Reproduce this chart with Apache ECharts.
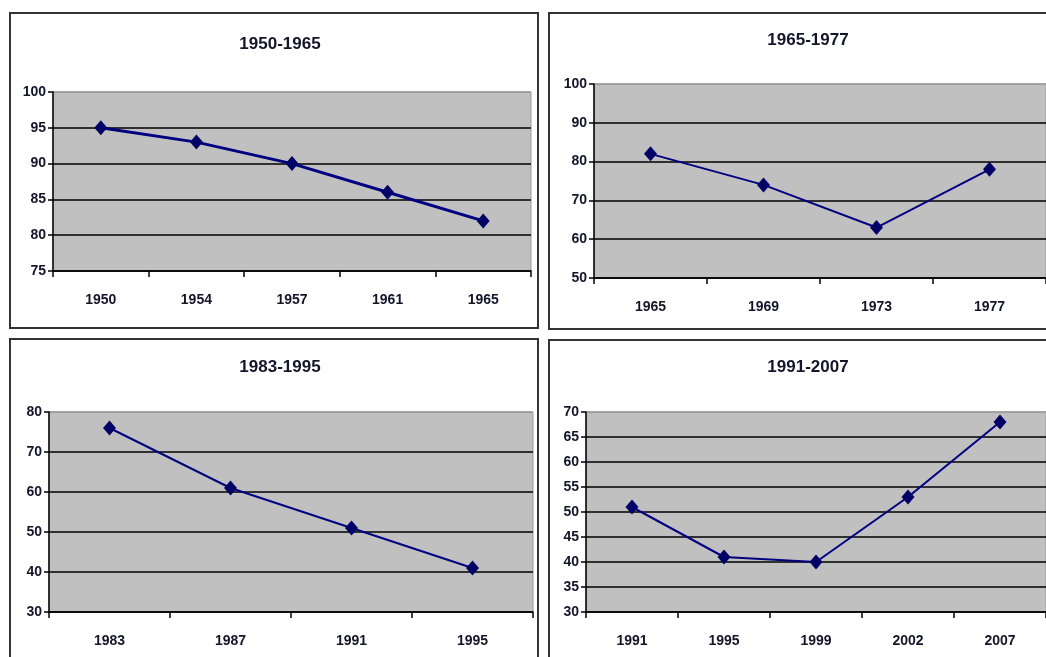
<!DOCTYPE html>
<html>
<head>
<meta charset="utf-8">
<script src="https://cdn.jsdelivr.net/npm/echarts@6/dist/echarts.min.js"></script>
<style>
html,body{margin:0;padding:0;background:#fff;}
#c{width:1046px;height:657px;}
</style>
</head>
<body>
<div id="c"></div>
<script>
// ---- data ----
const titles = ['1950-1965', '1965-1977', '1983-1995', '1991-2007'];
const cats1 = ['1950', '1954', '1957', '1961', '1965'];
const vals1 = [95, 93, 90, 86, 82];
const cats2 = ['1965', '1969', '1973', '1977'];
const vals2 = [82, 74, 63, 78];
const cats3 = ['1983', '1987', '1991', '1995'];
const vals3 = [76, 61, 51, 41];
const cats4 = ['1991', '1995', '1999', '2002', '2007'];
const vals4 = [51, 41, 40, 53, 68];
const yMins = [75, 50, 30, 30];
const yMaxs = [100, 100, 80, 70];
const yIntervals = [5, 10, 10, 5];

// ---- layout / style ----
const FONT = '"Liberation Sans", Arial, sans-serif';
const TXT = '#14142a';
const grids = [
  {left: 53, top: 92, width: 478, height: 179},
  {left: 594, top: 84, width: 456, height: 194},
  {left: 49, top: 412, width: 484, height: 200},
  {left: 586, top: 412, width: 464, height: 200}
];
const titlePos = [[275, 31], [803, 27], [275, 354], [803, 354]];
const lineWidths = [3, 2, 2, 2];
const cats = [cats1, cats2, cats3, cats4];
const vals = [vals1, vals2, vals3, vals4];

function splitColors(i) {
  const n = Math.round((yMaxs[i] - yMins[i]) / yIntervals[i]) + 1;
  const arr = [];
  for (let k = 0; k < n; k++) arr.push(k === n - 1 ? '#9a9a9a' : '#000');
  return arr;
}

const option = {
  animation: false,
  backgroundColor: '#fff',
  title: titles.map((t, i) => ({
    text: t, left: titlePos[i][0], top: titlePos[i][1], textAlign: 'center',
    textStyle: {fontFamily: FONT, fontWeight: 'bold', fontSize: 17, color: TXT}
  })),
  graphic: [
    {type: 'rect', shape: {x: 10, y: 13, width: 528, height: 315}, style: {fill: 'none', stroke: '#333', lineWidth: 2}},
    {type: 'rect', shape: {x: 549, y: 13, width: 520, height: 316}, style: {fill: 'none', stroke: '#333', lineWidth: 2}},
    {type: 'rect', shape: {x: 10, y: 339, width: 528, height: 340}, style: {fill: 'none', stroke: '#333', lineWidth: 2}},
    {type: 'rect', shape: {x: 549, y: 340, width: 520, height: 340}, style: {fill: 'none', stroke: '#333', lineWidth: 2}}
  ],
  grid: grids.map(g => Object.assign({
    show: true, backgroundColor: '#c0c0c0', borderColor: '#9a9a9a', borderWidth: 1
  }, g)),
  xAxis: cats.map((c, i) => ({
    type: 'category', gridIndex: i, data: c, boundaryGap: true,
    axisLine: {show: true, lineStyle: {color: '#000', width: 1.5}},
    axisTick: {show: true, length: 6, lineStyle: {color: '#000', width: 1.5}},
    axisLabel: {margin: 22, fontFamily: FONT, fontWeight: 'bold', fontSize: 14, color: TXT},
    splitLine: {show: false}
  })),
  yAxis: cats.map((c, i) => ({
    type: 'value', gridIndex: i, min: yMins[i], max: yMaxs[i], interval: yIntervals[i],
    axisLine: {show: true, lineStyle: {color: '#000', width: 1.5}},
    axisTick: {show: true, length: 5, lineStyle: {color: '#000', width: 1.5}},
    axisLabel: {margin: 7, fontFamily: FONT, fontWeight: 'bold', fontSize: 14, color: TXT},
    splitLine: {show: true, lineStyle: {color: splitColors(i), width: 1.5}}
  })),
  series: vals.map((v, i) => ({
    type: 'line', xAxisIndex: i, yAxisIndex: i, data: v,
    symbol: 'diamond', symbolSize: [13, 15],
    lineStyle: {color: '#000080', width: lineWidths[i]},
    itemStyle: {color: '#000066'}
  }))
};

const chart = echarts.init(document.getElementById('c'));
chart.setOption(option);
</script>
</body>
</html>
